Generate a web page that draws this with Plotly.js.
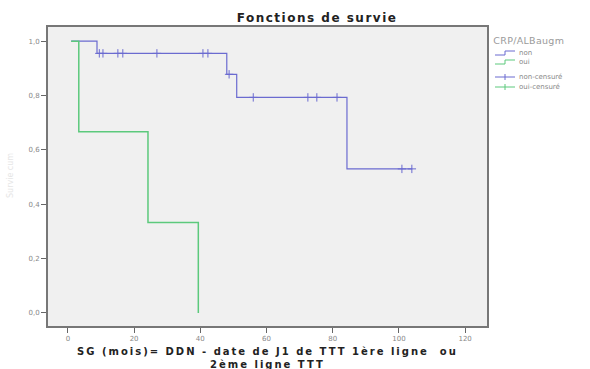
<!DOCTYPE html>
<html><head><meta charset="utf-8">
<script src="https://cdn.plot.ly/plotly-3.0.1.min.js"></script>
<style>html,body{margin:0;padding:0;background:#fff}#c{width:590px;height:369px}</style>
</head><body><div id="c"></div>
<script>
// Survival curve "non" (steps)
const nonTimes = [1, 8.8, 48, 51, 84.3, 104];
const nonSurv  = [1, 0.955, 0.878, 0.793, 0.53, 0.53];
// Censored "non"
const nonCensTimes = [9.5, 10.6, 15.1, 16.6, 26.9, 40.8, 42.3, 48.7, 56, 72.5, 75.2, 81.3, 100.9, 103.9];
const nonCensSurv  = [0.955, 0.955, 0.955, 0.955, 0.955, 0.955, 0.955, 0.878, 0.793, 0.793, 0.793, 0.793, 0.53, 0.53];
// Survival curve "oui"
const ouiTimes = [1, 3.3, 24.2, 39.4];
const ouiSurv  = [1, 0.667, 0.333, 0];
// Censored "oui" (none)
const ouiCensTimes = [];
const ouiCensSurv  = [];

const xTicks = [0, 20, 40, 60, 80, 100, 120];
const yTicks = [0, 0.2, 0.4, 0.6, 0.8, 1.0];
const legendTitle = 'CRP/ALBaugm';
const legendLabels = ['non', 'oui', 'non-censuré', 'oui-censuré'];

const blue = '#6b6bd0', green = '#5cc97c';
const W = 590, H = 369, L = 48, R = 487, T = 27, B = 326;
const px = x => (x - L) / (R - L);
const py = y => (B - y) / (B - T);

const traces = [
  {x: nonTimes, y: nonSurv, mode: 'lines', line: {shape: 'hv', color: blue, width: 1.2}, name: 'non'},
  {x: ouiTimes, y: ouiSurv, mode: 'lines', line: {shape: 'hv', color: green, width: 1.5}, name: 'oui'},
  {x: nonCensTimes, y: nonCensSurv, mode: 'markers', marker: {symbol: 'cross-thin-open', size: 6, color: blue, line: {color: blue, width: 1}}, name: 'non-censuré'},
  {x: ouiCensTimes, y: ouiCensSurv, mode: 'markers', marker: {symbol: 'cross-thin-open', size: 6, color: green, line: {color: green, width: 1}}, name: 'oui-censuré'}
];

// manual legend (SPSS style, compact)
const legY = [53, 62, 77, 87];
const legCol = [blue, green, blue, green];
const shapes = [];
const annotations = [
  {text: '<b>Fonctions de survie</b>', xref: 'paper', yref: 'paper', x: px(317), y: py(18),
   xanchor: 'center', yanchor: 'middle', showarrow: false, font: {size: 12, color: '#222'}},
  {text: '<b>SG (mois)= DDN - date de J1 de TTT 1ère ligne  ou<br>2ème ligne TTT</b>', xref: 'paper', yref: 'paper',
   x: 0.5, y: py(357.5), xanchor: 'center', yanchor: 'middle', showarrow: false, font: {size: 10, color: '#222'}},
  {text: 'Survie cum', xref: 'paper', yref: 'paper', x: px(10), y: py(176), textangle: -90,
   xanchor: 'center', yanchor: 'middle', showarrow: false, font: {size: 8, color: '#e6e6e6'}},
  {text: legendTitle, xref: 'paper', yref: 'paper', x: px(493), y: py(41), xanchor: 'left', yanchor: 'middle',
   showarrow: false, font: {size: 9.5, color: '#9a9a9a'}}
];
legendLabels.forEach((lab, i) => {
  const y = legY[i], c = legCol[i];
  if (i < 2) {
    shapes.push({type: 'path', xref: 'paper', yref: 'paper', line: {color: c, width: 1},
      path: `M ${px(495)},${py(y + 2)} L ${px(505)},${py(y + 2)} L ${px(505)},${py(y - 2)} L ${px(515)},${py(y - 2)}`});
  } else {
    shapes.push({type: 'line', xref: 'paper', yref: 'paper', x0: px(495), x1: px(515), y0: py(y), y1: py(y), line: {color: c, width: 1}});
    shapes.push({type: 'line', xref: 'paper', yref: 'paper', x0: px(505), x1: px(505), y0: py(y - 3), y1: py(y + 3), line: {color: c, width: 1}});
  }
  annotations.push({text: lab, xref: 'paper', yref: 'paper', x: px(517), y: py(y), xanchor: 'left', yanchor: 'middle',
    showarrow: false, font: {size: 7, color: '#888'}});
});

const layout = {
  width: W, height: H,
  margin: {l: L, r: W - R, t: T, b: H - B},
  paper_bgcolor: '#fff', plot_bgcolor: '#f0f0f0',
  separators: ',.',
  font: {family: 'DejaVu Sans, sans-serif', color: '#777'},
  xaxis: {range: [-6, 126.6], tickvals: xTicks, ticks: 'outside', ticklen: 5, tickcolor: '#666',
          showgrid: false, zeroline: false, showline: true, mirror: true, linecolor: '#777', linewidth: 2,
          tickfont: {size: 7, color: '#888'}},
  yaxis: {range: [-0.048, 1.052], tickvals: yTicks, tickformat: '.1f', ticks: 'outside', ticklen: 5, tickcolor: '#666',
          showgrid: false, zeroline: false, showline: true, mirror: true, linecolor: '#777', linewidth: 2,
          tickfont: {size: 7, color: '#888'}},
  showlegend: false,
  shapes: shapes,
  annotations: annotations
};
Plotly.newPlot('c', traces, layout, {staticPlot: true}).then(gd => {
  const texts = gd.querySelectorAll('.annotation-text');
  const spacing = [1.5, 2, 0, 0.3];
  texts.forEach((t, i) => { if (spacing[i]) t.style.letterSpacing = spacing[i] + 'px'; });
});
</script></body></html>
